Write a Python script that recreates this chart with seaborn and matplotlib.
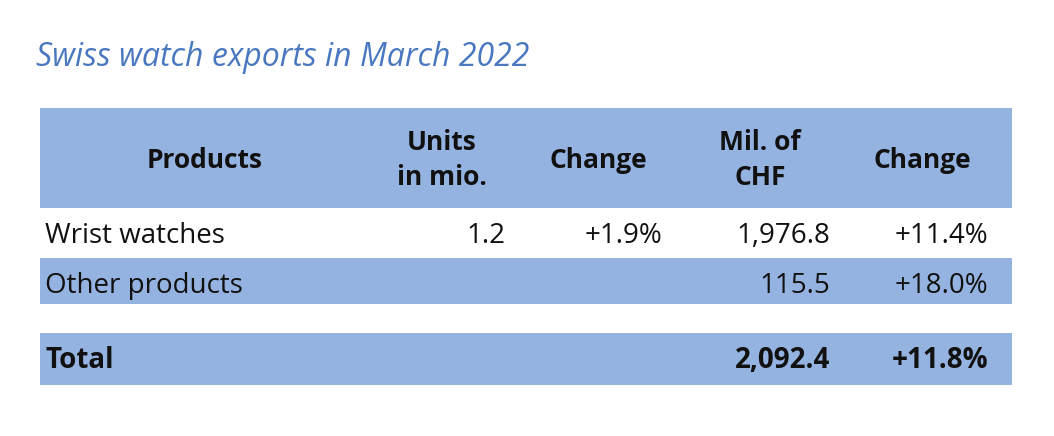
import matplotlib.pyplot as plt
import seaborn as sns

sns.set_theme(style="white")
plt.rcParams['font.family'] = ['Open Sans', 'DejaVu Sans']

title = "Swiss watch exports in March 2022"
headers = ["Products", "Units\nin mio.", "Change", "Mil. of\nCHF", "Change"]
products = ["Wrist watches", "Other products", "Total"]
units = ["1.2", "", ""]
units_change = ["+1.9%", "", ""]
chf = ["1,976.8", "115.5", "2,092.4"]
chf_change = ["+11.4%", "+18.0%", "+11.8%"]

band = "#95b3e0"
fig = plt.figure(figsize=(10.54, 4.36), dpi=100)
ax = fig.add_axes([0, 0, 1, 1])
ax.set_xlim(0, 1054)
ax.set_ylim(436, 0)
ax.axis('off')

ax.text(36, 58, title, fontsize=23, style='italic', color='#4a78c0', va='center')

# bands: header, row 1 (white), row 2, total
ax.fill_between([40, 1012], 108, 208, color=band, lw=0)
ax.fill_between([40, 1012], 258, 304, color=band, lw=0)
ax.fill_between([40, 1012], 333, 385, color=band, lw=0)

hx = [205, 442, 598, 760, 922]
for x, h in zip(hx, headers):
    ax.text(x, 160, h, fontsize=19, fontweight='bold', ha='center', va='center',
            linespacing=1.4, color='#111111')

row_y = [236, 286, 360]
for i, y in enumerate(row_y):
    bold = 'bold' if i == 2 else 'normal'
    ax.text(45, y, products[i], fontsize=20, fontweight=bold, va='center', color='#111111')
    for x, v in zip([505, 662, 830, 988], [units[i], units_change[i], chf[i], chf_change[i]]):
        ax.text(x, y, v, fontsize=20, fontweight=bold, ha='right', va='center', color='#111111')

fig.savefig("out.png", dpi=100, facecolor='white')
